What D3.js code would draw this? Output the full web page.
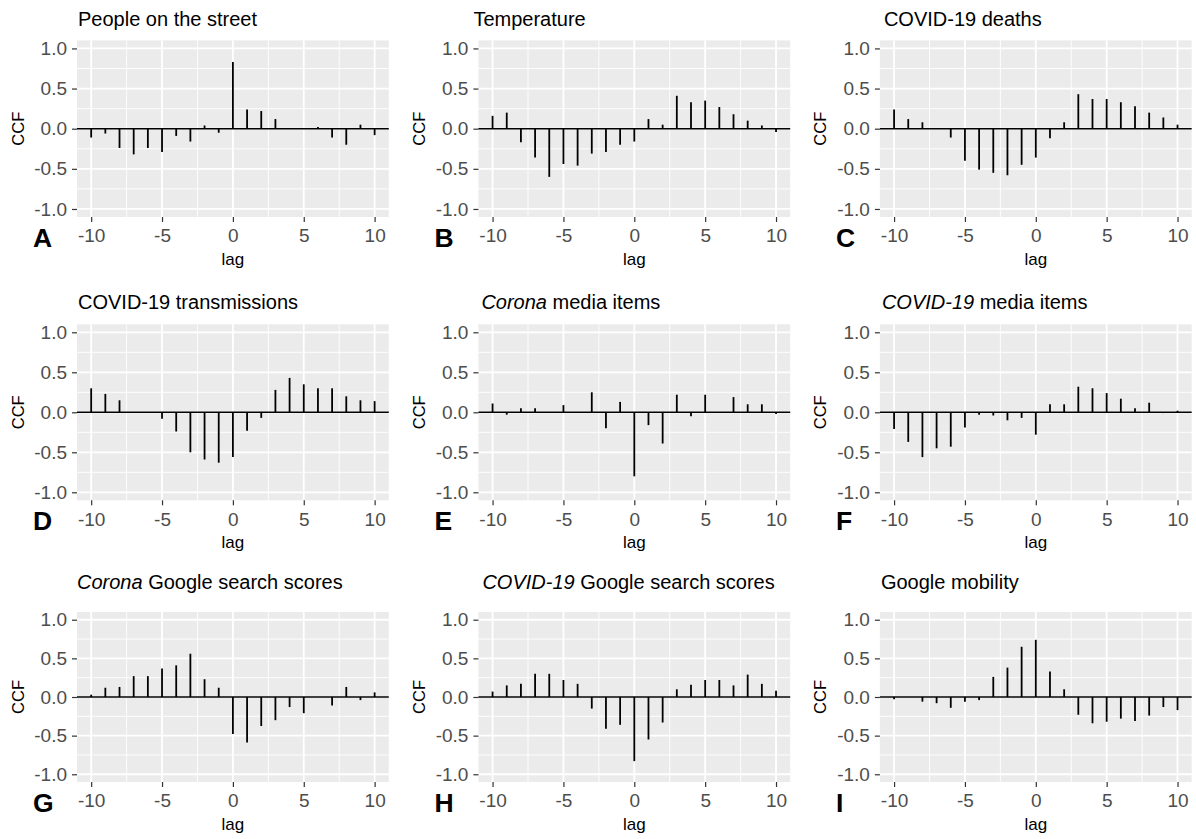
<!DOCTYPE html>
<html>
<head>
<meta charset="utf-8">
<script src="https://cdn.jsdelivr.net/npm/d3@7"></script>
<style>
	body { margin: 0; background: #fff; }
	svg text { font-family: "Liberation Sans", Arial, sans-serif; }
</style>
</head>
<body>
<svg id="ccf" width="1196" height="839"></svg>
<script>
"use strict";

// Lags shown on every panel
var lags = [-10, -9, -8, -7, -6, -5, -4, -3, -2, -1, 0, 1, 2, 3, 4, 5, 6, 7, 8, 9, 10];

// CCF values per panel, one per lag
var peopleOnStreet = [-0.11, -0.06, -0.24, -0.32, -0.24, -0.29, -0.09, -0.16, 0.04, -0.05, 0.83, 0.24, 0.22, 0.12, 0.005, 0.0, 0.02, -0.11, -0.20, 0.05, -0.08];
var temperature = [0.16, 0.20, -0.17, -0.36, -0.60, -0.44, -0.46, -0.31, -0.29, -0.20, -0.16, 0.12, 0.05, 0.41, 0.33, 0.35, 0.27, 0.18, 0.10, 0.04, -0.04];
var covidDeaths = [0.24, 0.12, 0.08, 0.0, -0.11, -0.40, -0.51, -0.55, -0.58, -0.45, -0.36, -0.12, 0.08, 0.43, 0.37, 0.37, 0.33, 0.28, 0.20, 0.14, 0.05];
var covidTransmissions = [0.30, 0.23, 0.15, 0.0, 0.0, -0.08, -0.24, -0.50, -0.59, -0.63, -0.56, -0.23, -0.07, 0.28, 0.43, 0.35, 0.30, 0.30, 0.20, 0.15, 0.14];
var coronaMedia = [0.11, -0.03, 0.05, 0.05, 0.0, 0.09, 0.0, 0.25, -0.20, 0.13, -0.80, -0.16, -0.39, 0.22, -0.05, 0.22, 0.0, 0.19, 0.10, 0.10, -0.02];
var covidMedia = [-0.21, -0.37, -0.56, -0.45, -0.43, -0.19, -0.03, -0.04, -0.10, -0.07, -0.28, 0.10, 0.10, 0.32, 0.30, 0.24, 0.17, 0.05, 0.12, -0.01, 0.02];
var coronaSearch = [0.03, 0.12, 0.13, 0.27, 0.27, 0.37, 0.41, 0.56, 0.23, 0.12, -0.48, -0.59, -0.375, -0.30, -0.13, -0.21, 0.0, -0.11, 0.13, -0.04, 0.06];
var covidSearch = [0.07, 0.15, 0.17, 0.30, 0.30, 0.22, 0.17, -0.15, -0.41, -0.36, -0.83, -0.55, -0.33, 0.10, 0.16, 0.22, 0.22, 0.15, 0.29, 0.17, 0.08];
var googleMobility = [-0.03, 0.0, -0.06, -0.08, -0.14, -0.06, -0.04, 0.26, 0.38, 0.65, 0.74, 0.33, 0.10, -0.23, -0.34, -0.32, -0.28, -0.31, -0.24, -0.13, -0.17];

var panelValues = [peopleOnStreet, temperature, covidDeaths, covidTransmissions, coronaMedia, covidMedia, coronaSearch, covidSearch, googleMobility];

// Titles: italic part first, then the upright rest
var titleItalic = ["", "", "", "", "Corona", "COVID-19", "Corona", "COVID-19", ""];
var titleRest = ["People on the street", "Temperature", "COVID-19 deaths", "COVID-19 transmissions", " media items", " media items", " Google search scores", " Google search scores", "Google mobility"];
var panelLetters = ["A", "B", "C", "D", "E", "F", "G", "H", "I"];

// Axis ticks
var yMajor = [-1, -0.5, 0, 0.5, 1];
var yMinor = [-0.75, -0.25, 0.25, 0.75];
var xMajor = [-10, -5, 0, 5, 10];
var xMinor = [-7.5, -2.5, 2.5, 7.5];

// Layout, measured from the figure. The rows are not quite the same height.
var colLeft = [77, 478.4, 879.9];
var panelWidth = 311.8;
var rows = [
	{top: 40.4, bottom: 217, title: 26},
	{top: 324.3, bottom: 500.3, title: 309},
	{top: 612, bottom: 782, title: 589}
];
var titleDx = [1, -5, 4, 1, 3, 2, 0, 4, 1];

var svg = d3.select("#ccf");
svg.append("rect").attr("width", 1196).attr("height", 839).attr("fill", "#fff");

function drawPanel(values, i) {
	var col = i % 3,
		row = rows[Math.floor(i / 3)],
		left = colLeft[col];

	// ggplot pads the limits by 5% on each side
	var x = d3.scaleLinear().domain([-11, 11]).range([left, left + panelWidth]);
	var y = d3.scaleLinear().domain([-1.1, 1.1]).range([row.bottom, row.top]);

	var g = svg.append("g").attr("class", "panel");

	g.append("rect")
		.attr("x", left)
		.attr("y", row.top)
		.attr("width", panelWidth)
		.attr("height", row.bottom - row.top)
		.attr("fill", "#ebebeb");

	// Grid lines, minor first
	g.selectAll("line.minor-y").data(yMinor).enter().append("line")
		.attr("class", "minor-y")
		.attr("x1", left).attr("x2", left + panelWidth)
		.attr("y1", y).attr("y2", y)
		.attr("stroke", "#fff").attr("stroke-width", 0.9);
	g.selectAll("line.minor-x").data(xMinor).enter().append("line")
		.attr("class", "minor-x")
		.attr("x1", x).attr("x2", x)
		.attr("y1", row.top).attr("y2", row.bottom)
		.attr("stroke", "#fff").attr("stroke-width", 0.9);
	g.selectAll("line.major-y").data(yMajor).enter().append("line")
		.attr("class", "major-y")
		.attr("x1", left).attr("x2", left + panelWidth)
		.attr("y1", y).attr("y2", y)
		.attr("stroke", "#fff").attr("stroke-width", 1.8);
	g.selectAll("line.major-x").data(xMajor).enter().append("line")
		.attr("class", "major-x")
		.attr("x1", x).attr("x2", x)
		.attr("y1", row.top).attr("y2", row.bottom)
		.attr("stroke", "#fff").attr("stroke-width", 1.8);

	// Zero line
	g.append("line")
		.attr("x1", left).attr("x2", left + panelWidth)
		.attr("y1", y(0)).attr("y2", y(0))
		.attr("stroke", "#000").attr("stroke-width", 1.6);

	// The CCF spikes
	g.selectAll("line.spike").data(values).enter().append("line")
		.attr("class", "spike")
		.attr("x1", function(d, j) { return x(lags[j]); })
		.attr("x2", function(d, j) { return x(lags[j]); })
		.attr("y1", y(0))
		.attr("y2", function(d) { return y(d); })
		.attr("stroke", "#000").attr("stroke-width", 1.8);

	// Axes. Plain hyphens, d3 would give a unicode minus otherwise.
	var yAxis = d3.axisLeft(y)
		.tickValues(yMajor)
		.tickSize(5)
		.tickPadding(5)
		.tickFormat(function(d) { return d.toFixed(1); });
	var xAxis = d3.axisBottom(x)
		.tickValues(xMajor)
		.tickSize(5)
		.tickPadding(7)
		.tickFormat(function(d) { return String(d); });

	[g.append("g").attr("transform", "translate(" + left + ",0)").call(yAxis),
	 g.append("g").attr("transform", "translate(0," + row.bottom + ")").call(xAxis)]
		.forEach(function(a) {
			a.select(".domain").remove();
			a.selectAll(".tick line").attr("stroke", "#333").attr("stroke-width", 1.2);
			a.selectAll(".tick text")
				.attr("fill", "#4d4d4d")
				.style("font-size", "19px")
				.style("font-family", "'Liberation Sans', Arial, sans-serif");
		});

	// Axis titles
	g.append("text")
		.attr("x", left + panelWidth / 2)
		.attr("y", row.bottom + 48)
		.attr("text-anchor", "middle")
		.style("font-size", "17px")
		.text("lag");
	g.append("text")
		.attr("transform", "translate(" + (left - 53.5) + "," + ((row.top + row.bottom) / 2) + ") rotate(-90)")
		.attr("text-anchor", "middle")
		.style("font-size", "16.5px")
		.text("CCF");

	// Panel title, with the search term in italics
	var title = g.append("text")
		.attr("x", left + titleDx[i])
		.attr("y", row.title)
		.style("font-size", "20px");
	if (titleItalic[i]) {
		title.append("tspan").style("font-style", "italic").text(titleItalic[i]);
	}
	title.append("tspan").attr("xml:space", "preserve").style("white-space", "pre").text(titleRest[i]);

	// Panel letter
	g.append("text")
		.attr("x", left - 44)
		.attr("y", row.bottom + 30)
		.style("font-size", "26.5px")
		.style("font-weight", "bold")
		.text(panelLetters[i]);
}

panelValues.forEach(drawPanel);
</script>
</body>
</html>
